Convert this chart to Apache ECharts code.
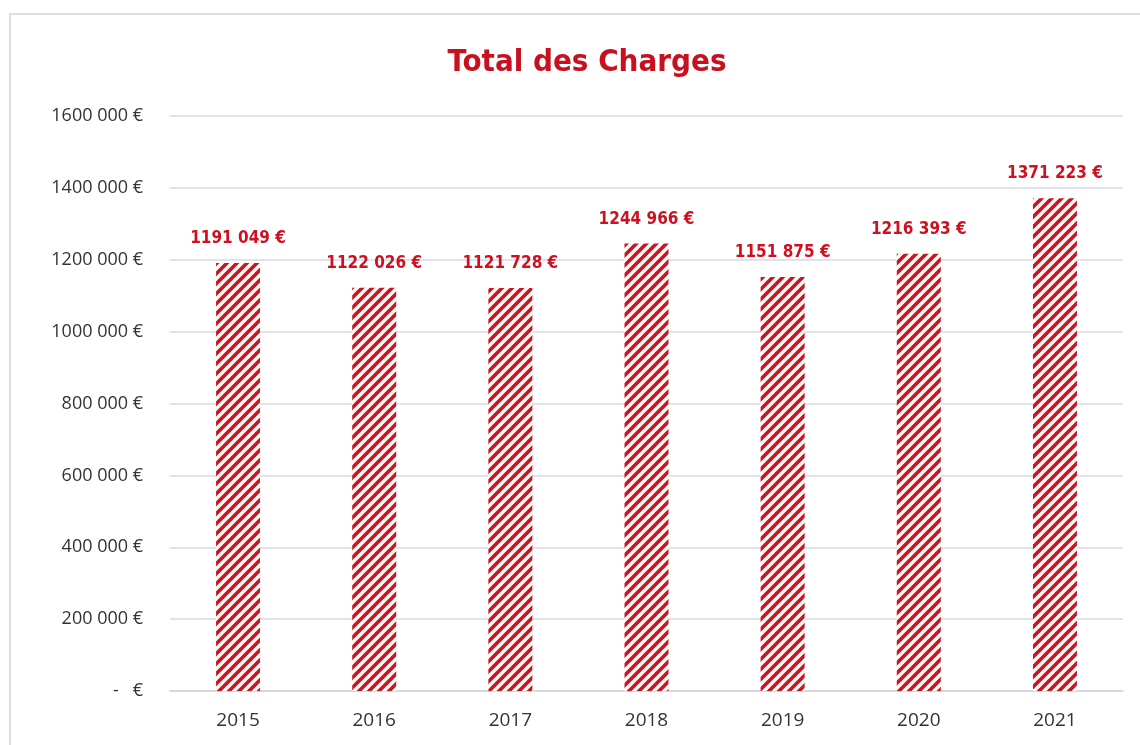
<!DOCTYPE html>
<html>
<head>
<meta charset="utf-8">
<script src="https://cdn.jsdelivr.net/npm/echarts@6/dist/echarts.min.js"></script>
<style>
html,body{margin:0;padding:0;background:#fff;}
#c{width:1140px;height:745px;}
</style>
</head>
<body>
<div id="c"></div>
<script>
const categories = ['2015','2016','2017','2018','2019','2020','2021'];
const charges = [1191049, 1122026, 1121728, 1244966, 1151875, 1216393, 1371223];
const yTicks = { min: 0, max: 1600000, interval: 200000 };
const titleText = 'Total des Charges';

function fmt(v) {
  if (v === 0) return '-   €';
  const th = Math.floor(v / 1000);
  const rest = String(v % 1000).padStart(3, '0');
  return th + ' ' + rest + ' €';
}

// hatch pattern
const pc = document.createElement('canvas');
const P = 10;
pc.width = P; pc.height = P;
const g = pc.getContext('2d');
g.fillStyle = '#fffafa';
g.fillRect(0, 0, P, P);
g.strokeStyle = '#d0121c';
g.lineWidth = 3.6;
g.beginPath();
g.moveTo(-P, P); g.lineTo(P, -P);
g.moveTo(0, P * 2); g.lineTo(P * 2, 0);
g.moveTo(0, P); g.lineTo(P, 0);
g.stroke();

const chart = echarts.init(document.getElementById('c'));
chart.setOption({
  animation: false,
  backgroundColor: '#ffffff',
  title: {
    text: titleText,
    left: 582, top: 42, textAlign: 'center',
    textStyle: { color: '#c8101e', fontSize: 31, fontWeight: 'bold', fontFamily: '"Liberation Sans Narrow","DejaVu Sans Condensed",sans-serif' }
  },
  graphic: [{
    type: 'rect', shape: { x: 10, y: 14, width: 1150, height: 760 },
    style: { fill: 'none', stroke: '#dcdce6', lineWidth: 2 }, silent: true, z: -1
  }],
  grid: { left: 170, right: 17, top: 116, bottom: 54 },
  xAxis: {
    type: 'category', data: categories,
    axisLine: { lineStyle: { color: '#d4d4e2', width: 1.5 } },
    axisTick: { show: false },
    axisLabel: { color: '#333', fontSize: 19, margin: 20, fontFamily: '"Open Sans","Liberation Sans",sans-serif' }
  },
  yAxis: {
    type: 'value', min: yTicks.min, max: yTicks.max, interval: yTicks.interval,
    axisLine: { show: false }, axisTick: { show: false },
    splitLine: { lineStyle: { color: '#d8d8e6', width: 1.5 } },
    axisLabel: { color: '#333', fontSize: 18, margin: 27, formatter: fmt, fontFamily: '"Open Sans","Liberation Sans",sans-serif' }
  },
  series: [{
    type: 'bar', data: charges, barWidth: 44,
    itemStyle: { color: { image: pc, repeat: 'repeat' } },
    label: {
      show: true, position: 'top', distance: 16,
      formatter: p => fmt(p.value),
      color: '#d01020', fontSize: 17, fontWeight: 'bold',
      fontFamily: '"Liberation Sans Narrow","DejaVu Sans Condensed",sans-serif'
    }
  }]
});
</script>
</body>
</html>
